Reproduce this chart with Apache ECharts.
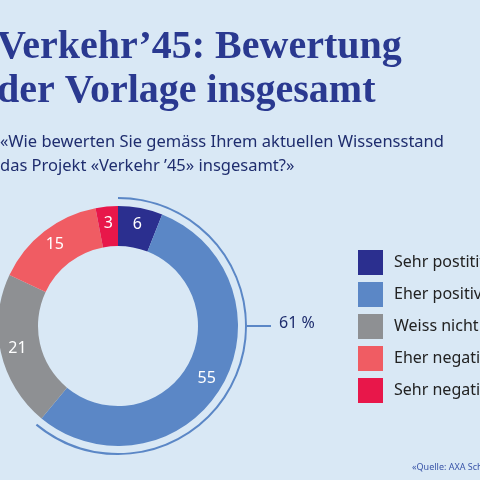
<!DOCTYPE html>
<html><head><meta charset="utf-8">
<script src="https://cdn.jsdelivr.net/npm/echarts@6/dist/echarts.min.js"></script>
<style>html,body{margin:0;padding:0;background:#d9e8f5}#c{width:480px;height:480px}</style>
</head><body><div id="c"></div>
<script>
const categories = ['Sehr postitiv', 'Eher positiv', 'Weiss nicht', 'Eher negativ', 'Sehr negativ'];
const values = [6, 55, 21, 15, 3];
const colors = ['#2b2f8f', '#5b87c6', '#8e9093', '#f05c63', '#e8174a'];
const positiveShare = 61;

const chart = echarts.init(document.getElementById('c'));
const txt = '#1f2d6e';
chart.setOption({
  backgroundColor: '#d9e8f5',
  animation: false,
  legend: {
    orient: 'vertical', left: 358, top: 250, padding: 0, itemWidth: 25, itemHeight: 25, itemGap: 7,
    icon: 'rect', selectedMode: false,
    textStyle: { color: '#222', fontSize: 16, fontFamily: 'Noto Sans', padding: [0, 0, 0, 6] },
    data: categories
  },
  series: [{
    type: 'pie', center: [118, 326], radius: [80, 120], startAngle: 90, clockwise: true,
    silent: true,
    label: { position: 'inside', color: '#fff', fontSize: 16, fontFamily: 'Noto Sans', formatter: '{c}' },
    labelLine: { show: false },
    data: categories.map((n, i) => ({ name: n, value: values[i], itemStyle: { color: colors[i] } }))
  }, {
    type: 'pie', center: [118, 326], radius: [127, 129], startAngle: 90, clockwise: true,
    silent: true, label: { show: false }, labelLine: { show: false },
    data: [
      { name: '', value: positiveShare, itemStyle: { color: '#5b87c6' } },
      { name: ' ', value: 100 - positiveShare, itemStyle: { color: 'transparent' } }
    ]
  }],
  graphic: [
    { type: 'text', left: -3, top: 26, style: { text: 'Verkehr’45: Bewertung\nder Vorlage insgesamt', fill: '#2a3990', font: 'bold 40px "Liberation Serif"', lineHeight: 44 } },
    { type: 'text', left: 0, top: 130, style: { text: '«Wie bewerten Sie gemäss Ihrem aktuellen Wissensstand\ndas Projekt «Verkehr ’45» insgesamt?»', fill: txt, font: '16.5px "Noto Sans"', lineHeight: 24 } },
    { type: 'line', shape: { x1: 247, y1: 326, x2: 271, y2: 326 }, style: { stroke: '#5b87c6', lineWidth: 2 } },
    { type: 'text', left: 279, top: 315, style: { text: positiveShare + ' %', fill: txt, font: '16px "Noto Sans"' } },
    { type: 'text', left: 412, top: 463, style: { text: '«Quelle: AXA Schweiz»', fill: '#3a55a8', font: '9px "Noto Sans"' } }
  ]
});
</script></body></html>
